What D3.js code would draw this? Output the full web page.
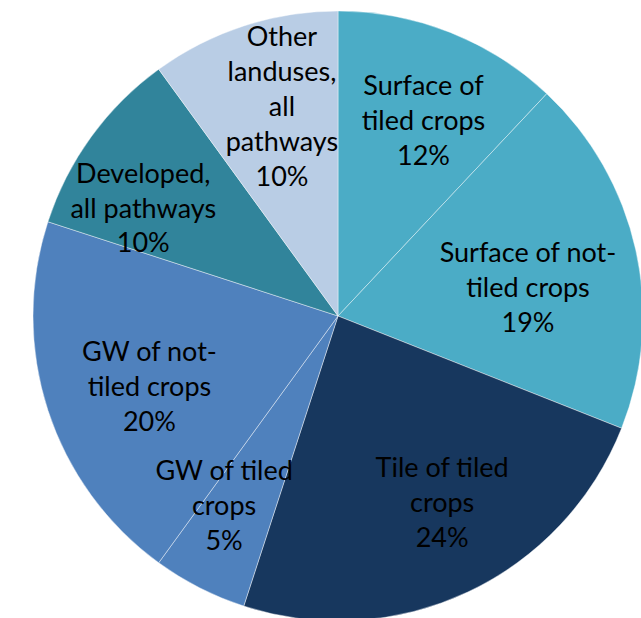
<!DOCTYPE html>
<html>
<head>
<meta charset="utf-8">
<script src="https://cdn.jsdelivr.net/npm/d3@7"></script>
<style>
  body { margin: 0; background: #fff; }
  svg { display: block; }
  .label { font-family: Lato, "Liberation Sans", sans-serif; font-size: 27px; fill: #000; }
</style>
</head>
<body>
<div id="root"></div>
<script>
// slices, clockwise from 12 o'clock
var categories = [
  "Surface of tiled crops",
  "Surface of not-tiled crops",
  "Tile of tiled crops",
  "GW of tiled crops",
  "GW of not-tiled crops",
  "Developed, all pathways",
  "Other landuses, all pathways"
];
// label text as it wraps in the chart
var labelLines = [
  ["Surface of", "tiled crops"],
  ["Surface of not-", "tiled crops"],
  ["Tile of tiled", "crops"],
  ["GW of tiled", "crops"],
  ["GW of not-", "tiled crops"],
  ["Developed,", "all pathways"],
  ["Other", "landuses,", "all", "pathways"]
];
var values = [12, 19, 24, 5, 20, 10, 10];
var colors = ["#4BACC6", "#4BACC6", "#17375E", "#4F81BD", "#4F81BD", "#31849B", "#B9CDE5"];

var width = 641, height = 618;
var cx = 338, cy = 316, radius = 305;

// "best fit" label placement: small turn (degrees) off the bisector and
// a distance as a share of the radius, like Excel ends up doing
var labelTurn = [2, 4, -4, 4, -2.5, -7, 3];
var labelDist = [0.70, 0.63, 0.70, 0.725, 0.66, 0.73, 0.71];

var data = categories.map(function (c, i) {
  return { name: c, value: values[i], lines: labelLines[i], color: colors[i], i: i };
});

var svg = d3.select("#root").append("svg")
  .attr("width", width)
  .attr("height", height);

var g = svg.append("g")
  .attr("transform", "translate(" + cx + "," + cy + ")");

var pie = d3.pie()
  .sort(null)
  .value(function (d) { return d.value; });

var arc = d3.arc().innerRadius(0).outerRadius(radius);

var arcs = pie(data);

g.selectAll(".slice")
  .data(arcs)
  .enter()
  .append("path")
  .attr("class", "slice")
  .attr("d", arc)
  .attr("fill", function (d) { return d.data.color; })
  .attr("stroke", "#fff")
  .attr("stroke-width", 0.6)
  .attr("stroke-opacity", 0.7);

function labelPos(d) {
  var i = d.data.i;
  var r = radius * labelDist[i];
  var a = (d.startAngle + d.endAngle) / 2 + labelTurn[i] * Math.PI / 180;
  var c = d3.arc().innerRadius(r).outerRadius(r).startAngle(a).endAngle(a).centroid();
  return c;
}

var lineH = 35;
var labels = g.selectAll(".label")
  .data(arcs)
  .enter()
  .append("text")
  .attr("class", "label")
  .attr("text-anchor", "middle")
  .attr("transform", function (d) {
    var c = labelPos(d);
    return "translate(" + c[0] + "," + c[1] + ")";
  });

labels.each(function (d) {
  var lines = d.data.lines.concat([d.data.value + "%"]);
  var t = d3.select(this);
  var top = -(lines.length - 1) * lineH / 2;
  lines.forEach(function (s, i) {
    t.append("tspan")
      .attr("x", 0)
      .attr("y", top + i * lineH)
      .attr("dy", "0.35em")
      .text(s);
  });
});
</script>
</body>
</html>
